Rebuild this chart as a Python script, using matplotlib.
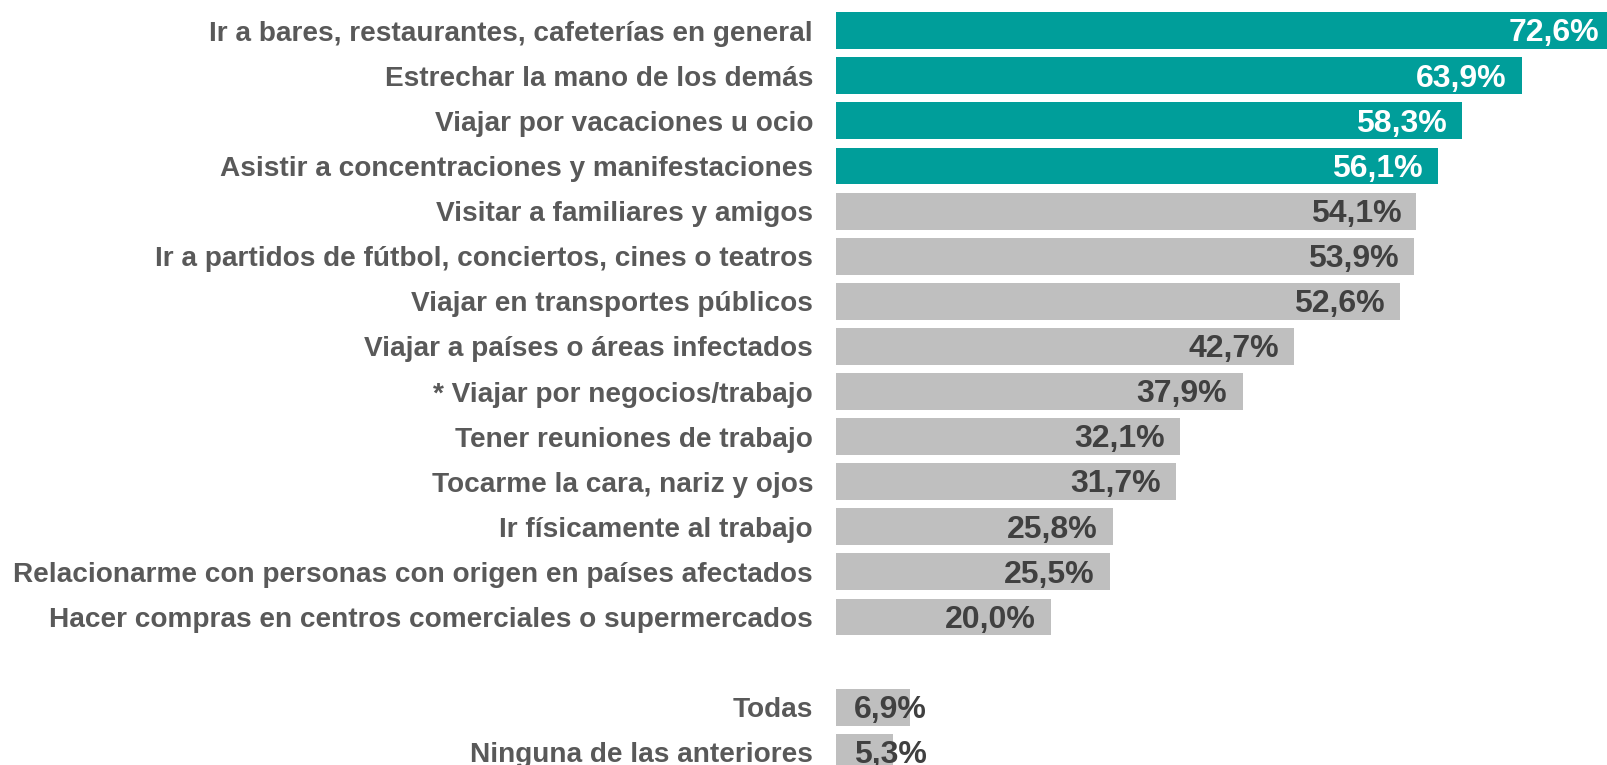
import matplotlib
matplotlib.use("Agg")
import matplotlib.pyplot as plt

# Data
labels = [
    "Ir a bares, restaurantes, cafeterías en general",
    "Estrechar la mano de los demás",
    "Viajar por vacaciones u ocio",
    "Asistir a concentraciones y manifestaciones",
    "Visitar a familiares y amigos",
    "Ir a partidos de fútbol, conciertos, cines o teatros",
    "Viajar en transportes públicos",
    "Viajar a países o áreas infectados",
    "* Viajar por negocios/trabajo",
    "Tener reuniones de trabajo",
    "Tocarme la cara, nariz y ojos",
    "Ir físicamente al trabajo",
    "Relacionarme con personas con origen en países afectados",
    "Hacer compras en centros comerciales o supermercados",
    "Todas",
    "Ninguna de las anteriores",
]
values = [72.6, 63.9, 58.3, 56.1, 54.1, 53.9, 52.6, 42.7, 37.9, 32.1, 31.7, 25.8, 25.5, 20.0, 6.9, 5.3]
highlighted = [True, True, True, True] + [False] * 12
# one empty slot between the main list and the last two rows
slots = list(range(14)) + [15, 16]

teal = "#009E9A"
grey = "#BFBFBF"

plt.rcParams["font.family"] = ["Liberation Sans", "DejaVu Sans"]

W, H = 1607, 765
fig = plt.figure(figsize=(W / 100, H / 100), dpi=100)
x0 = 836 / W
ax = fig.add_axes([x0, 0, 1 - x0, 1])

px_per_unit = 10.73
ax.set_xlim(0, (W - 836) / px_per_unit)
ax.set_ylim((H - 30.7) / 45.1, -30.7 / 45.1)

colors = [teal if h else grey for h in highlighted]
ax.barh(slots, values, height=0.82, color=colors, edgecolor="none")

for s, v, h in zip(slots, values, highlighted):
    txt = f"{v:.1f}%".replace(".", ",")
    tc = "white" if h else "#404040"
    if v < 12:
        ax.annotate(txt, (0, s), xytext=(13, -2), textcoords="offset points",
                    ha="left", va="center", fontsize=23, fontweight="bold", color=tc,
                    annotation_clip=False)
    else:
        ax.annotate(txt, (v, s), xytext=(-11, -2), textcoords="offset points",
                    ha="right", va="center", fontsize=23, fontweight="bold", color=tc,
                    annotation_clip=False)

ax.set_yticks(slots)
ax.set_yticklabels(labels, fontsize=20.2, fontweight="bold", color="#595959")
ax.tick_params(axis="y", length=0, pad=16.5)
ax.set_xticks([])
for sp in ax.spines.values():
    sp.set_visible(False)

fig.savefig("out.png", dpi=100)
